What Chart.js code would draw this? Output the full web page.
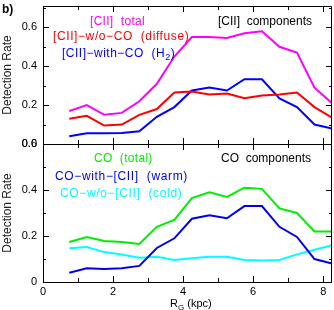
<!DOCTYPE html>
<html>
<head>
<meta charset="utf-8">
<script src="https://cdn.jsdelivr.net/npm/chart.js@4/dist/chart.umd.min.js"></script>
<style>
html, body { margin: 0; padding: 0; background: #fff; }
#wrap { position: relative; width: 334px; height: 310px; overflow: hidden; }
canvas { position: absolute; left: 0; }
#top { top: 0; }
#bot { top: 138px; }
</style>
</head>
<body>
<div id="wrap">
  <canvas id="top" width="334" height="150"></canvas>
  <canvas id="bot" width="334" height="172"></canvas>
</div>
<script>
// galactocentric radius bins (kpc)
var rg = [0.75, 1.25, 1.75, 2.25, 2.75, 3.25, 3.75, 4.25, 4.75, 5.25, 5.75, 6.25, 6.75, 7.25, 7.75, 8.25];

// top panel: [CII] components
var ciiTotal  = [0.17, 0.20, 0.15, 0.16, 0.22, 0.31, 0.45, 0.55, 0.55, 0.545, 0.57, 0.58, 0.50, 0.47, 0.29, 0.21];
var ciiNoCO   = [0.13, 0.145, 0.095, 0.10, 0.15, 0.18, 0.265, 0.27, 0.255, 0.26, 0.235, 0.25, 0.255, 0.265, 0.19, 0.135];
var ciiWithCO = [0.04, 0.055, 0.055, 0.057, 0.065, 0.14, 0.19, 0.275, 0.29, 0.275, 0.333, 0.333, 0.235, 0.19, 0.10, 0.08];

// bottom panel: CO components
var coTotal   = [0.174, 0.196, 0.178, 0.174, 0.165, 0.24, 0.27, 0.365, 0.39, 0.37, 0.41, 0.405, 0.32, 0.30, 0.22, 0.22];
var coWithCII = [0.04, 0.06, 0.057, 0.06, 0.07, 0.148, 0.19, 0.275, 0.29, 0.277, 0.33, 0.33, 0.24, 0.196, 0.10, 0.08];
var coNoCII   = [0.147, 0.152, 0.13, 0.12, 0.105, 0.11, 0.096, 0.103, 0.11, 0.11, 0.096, 0.093, 0.096, 0.12, 0.14, 0.16];

var xTicks = [0, 2, 4, 6, 8];
var xTickLabels = ['0', '2', '4', '6', '8'];
var yTicks = [0, 0.2, 0.4, 0.6];
var topYLabels = ['0.0', '0.2', '0.4', '0.6'];
var botYLabels = ['0', '0.2', '0.4', '0.6'];

var FONT = '"Liberation Sans", Arial, sans-serif';

function pts(ys) {
  return rg.map(function (x, i) { return { x: x, y: ys[i] }; });
}

// draw a string made of pieces, some of them subscripts
function rich(ctx, x, y, parts, size, color, ls) {
  ctx.fillStyle = color;
  ctx.textAlign = 'left';
  ctx.textBaseline = 'alphabetic';
  ctx.letterSpacing = (ls || 0) + 'px';
  parts.forEach(function (p) {
    if (p.sub) {
      ctx.font = Math.round(size * 0.72) + 'px ' + FONT;
      ctx.fillText(p.t, x, y + size * 0.28);
    } else {
      ctx.font = size + 'px ' + FONT;
      ctx.fillText(p.t, x, y);
    }
    x += ctx.measureText(p.t).width;
  });
  ctx.letterSpacing = '0px';
}

function framePlugin(cfg) {
  return {
    id: 'frame',
    afterDraw: function (chart) {
      var ctx = chart.ctx, a = chart.chartArea;
      var xs = chart.scales.x, ys = chart.scales.y;
      ctx.save();
      ctx.strokeStyle = '#000';
      ctx.lineWidth = 1;
      ctx.beginPath();
      ctx.rect(Math.round(a.left) + 0.5, Math.round(a.top) + 0.5, Math.round(a.right - a.left) - 1, Math.round(a.bottom - a.top));
      ctx.stroke();

      // x ticks, inward on bottom and top
      ctx.beginPath();
      for (var v = 0; v <= 8; v++) {
        var px = Math.round(xs.getPixelForValue(v)) + 0.5;
        var len = v % 2 === 0 ? 6 : 4;
        ctx.moveTo(px, a.bottom); ctx.lineTo(px, a.bottom - len);
        ctx.moveTo(px, a.top); ctx.lineTo(px, a.top + len);
      }
      // y ticks, inward on left and right
      for (var k = 0; k <= 7; k++) {
        var yv = k / 10;
        if (yv > ys.max) break;
        var py = Math.round(ys.getPixelForValue(yv)) + 0.5;
        var l2 = k % 2 === 0 ? 6 : 3;
        ctx.moveTo(a.left, py); ctx.lineTo(a.left + l2, py);
        ctx.moveTo(a.right, py); ctx.lineTo(a.right - l2, py);
      }
      ctx.stroke();

      // y tick labels
      ctx.fillStyle = '#000';
      ctx.font = '11px ' + FONT;
      ctx.textAlign = 'right';
      ctx.textBaseline = 'middle';
      yTicks.forEach(function (t, i) {
        ctx.fillText(cfg.yLabels[i], a.left - 6, ys.getPixelForValue(t));
      });

      // y title
      ctx.save();
      ctx.translate(8, (a.top + a.bottom) / 2);
      ctx.rotate(-Math.PI / 2);
      ctx.font = '12px ' + FONT;
      ctx.fillStyle = '#222';
      ctx.textAlign = 'center';
      ctx.textBaseline = 'middle';
      ctx.fillText('Detection Rate', 0, 0);
      ctx.restore();

      if (cfg.xLabels) {
        ctx.font = '11px ' + FONT;
        ctx.textAlign = 'center';
        ctx.textBaseline = 'alphabetic';
        xTicks.forEach(function (t, i) {
          ctx.fillText(xTickLabels[i], xs.getPixelForValue(t), a.bottom + 13);
        });
        rich(ctx, 170, a.bottom + 25, [{ t: 'R' }, { t: 'G', sub: true }, { t: ' (kpc)' }], 11, '#000');
      }

      cfg.texts.forEach(function (t) {
        rich(ctx, t.x, t.y, t.parts, 12, t.color, t.ls);
      });
      if (cfg.tag) {
        ctx.font = 'bold 12px ' + FONT;
        ctx.fillStyle = '#000';
        ctx.textAlign = 'left';
        ctx.fillText(cfg.tag, 2, 13);
      }
      ctx.restore();
    }
  };
}

function makeChart(id, sets, ymax, pad, cfg) {
  return new Chart(document.getElementById(id), {
    type: 'line',
    data: {
      datasets: sets.map(function (s) {
        return { data: pts(s.v), borderColor: s.c, borderWidth: 2, pointRadius: 0, tension: 0, fill: false };
      })
    },
    options: {
      responsive: false,
      animation: false,
      layout: { padding: pad },
      plugins: { legend: { display: false }, tooltip: { enabled: false } },
      scales: {
        x: { type: 'linear', min: 0, max: 8.25, display: false },
        y: { min: 0, max: ymax, display: false }
      }
    },
    plugins: [framePlugin(cfg)]
  });
}

makeChart('top', [
  { v: ciiTotal, c: '#ff00ff' },
  { v: ciiNoCO, c: '#ff0000' },
  { v: ciiWithCO, c: '#0000ff' }
], 0.71, { left: 43, right: 2, top: 6, bottom: 6 }, {
  yLabels: topYLabels,
  tag: 'b)',
  texts: [
    { x: 90, y: 25, color: '#ff00ff', ls: 0.3, parts: [{ t: '[CII]  total' }] },
    { x: 218, y: 25, color: '#000', parts: [{ t: '[CII]  components' }] },
    { x: 53, y: 40, color: '#ff0000', ls: 0.6, parts: [{ t: '[CII]\u2212w/o\u2212CO  (diffuse)' }] },
    { x: 62, y: 57, color: '#0000ff', ls: 0.5, parts: [{ t: '[CII]\u2212with\u2212CO  (H' }, { t: '2', sub: true }, { t: ')' }] }
  ]
});

makeChart('bot', [
  { v: coTotal, c: '#00ee00' },
  { v: coWithCII, c: '#0000ee' },
  { v: coNoCII, c: '#00ffff' }
], 0.6, { left: 43, right: 2, top: 6, bottom: 28 }, {
  yLabels: botYLabels,
  xLabels: true,
  texts: [
    { x: 94, y: 24, color: '#00ee00', ls: 0.3, parts: [{ t: 'CO  (total)' }] },
    { x: 221, y: 24, color: '#000', parts: [{ t: 'CO  components' }] },
    { x: 55, y: 42, color: '#0000ee', ls: 0.65, parts: [{ t: 'CO\u2212with\u2212[CII]  (warm)' }] },
    { x: 60, y: 59, color: '#00ffff', ls: 0.65, parts: [{ t: 'CO\u2212w/o\u2212[CII]  (cold)' }] }
  ]
});
</script>
</body>
</html>
